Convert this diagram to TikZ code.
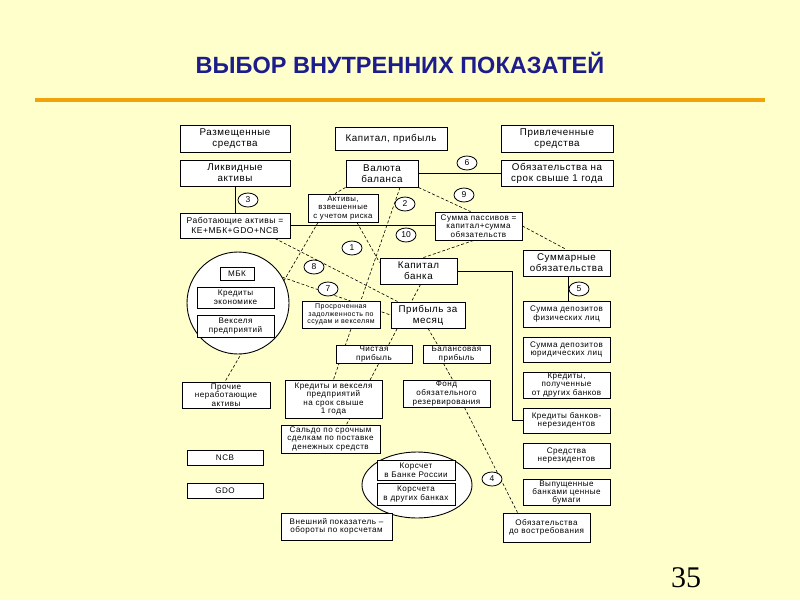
\documentclass[tikz,border=0pt]{standalone}
\usepackage{fontspec}
\setmainfont{Liberation Sans}
\newfontfamily\boxfont[LetterSpace=6]{Liberation Sans}
\newfontfamily\serifnum{Liberation Serif}
\usetikzlibrary{calc,shapes.geometric}
\pgfdeclarelayer{back}
\pgfdeclarelayer{lines}
\pgfsetlayers{back,lines,main}
\definecolor{bgyellow}{HTML}{FFFFCC}
\definecolor{titleblue}{HTML}{1C1C8C}
\definecolor{rulecol}{HTML}{F0A30A}
\begin{document}
\begin{tikzpicture}[x=1pt,y=-1pt,
  box/.style={draw=black, line width=0.9pt, fill=white, align=center, inner sep=0pt, font=\boxfont\fontsize{8.5}{9.5}\selectfont},
  big/.style={font=\boxfont\fontsize{9.8}{11}\selectfont},
  small/.style={font=\boxfont\fontsize{8.1}{8.6}\selectfont},
  tiny/.style={font=\boxfont\fontsize{7}{7.8}\selectfont},
  num/.style={ellipse, draw=black, line width=0.8pt, fill=white, minimum width=20pt, minimum height=14pt, inner sep=0pt, font=\fontsize{8.5}{9}\selectfont},
  dl/.style={draw=black, line width=0.6pt, dash pattern=on 3pt off 2pt},
  sl/.style={draw=black, line width=0.7pt}]
\begin{pgfonlayer}{back}
\fill[bgyellow] (0,0) rectangle (800,600);
\end{pgfonlayer}
\useasboundingbox (0,0) rectangle (800,600);

\node[font=\fontsize{23.5}{28}\selectfont\bfseries, text=titleblue] (title) at (400,62.5) {ВЫБОР ВНУТРЕННИХ ПОКАЗАТЕЙ};
\coordinate (r1) at (35,100);
\coordinate (r2) at (765,100);
\draw[rulecol, line width=4pt] (r1) -- (r2);
\node[font=\serifnum\fontsize{30}{34}\selectfont] (pg) at (686,578) {35};

% boxes
\node[box,big,minimum width=110pt,minimum height=27pt] (raz) at (235,138.5) {Размещенные\\средства};
\node[box,big,minimum width=112pt,minimum height=23pt] (kp) at (391,138.5) {Капитал, прибыль};
\node[box,big,minimum width=112pt,minimum height=27pt] (priv) at (557,138.5) {Привлеченные\\средства};
\node[box,big,minimum width=110pt,minimum height=26pt] (liq) at (235,173) {Ликвидные\\активы};
\node[box,big,minimum width=72pt,minimum height=27pt] (val) at (382,173.5) {Валюта\\баланса};
\node[box,big,minimum width=112pt,minimum height=26pt] (obsr) at (557,173) {Обязательства на\\срок свыше 1 года};
\node[box,small,minimum width=70pt,minimum height=28pt,font=\boxfont\fontsize{7.8}{8.5}\selectfont] (akt) at (343,208) {Активы,\\взвешенные\\с учетом риска};
\node[box,minimum width=110pt,minimum height=25pt] (rab) at (235,225.5) {Работающие активы =\\КЕ+МБК+GDO+NCB};
\node[box,small,minimum width=87pt,minimum height=28pt] (summ) at (478.5,226) {Сумма пассивов =\\капитал+сумма\\обязательств};
\node[box,big,minimum width=77pt,minimum height=26pt] (kb) at (418.5,271) {Капитал\\банка};
\node[box,big,minimum width=87pt,minimum height=26pt] (sob) at (566.5,263) {Суммарные\\обязательства};

\node[circle, draw=black, line width=0.9pt, fill=white, minimum size=102pt, inner sep=0pt] (bigc) at (238,303) {};
\node[box,small,minimum width=34pt,minimum height=13pt] (mbk) at (237,273.5) {МБК};
\node[box,small,minimum width=77pt,minimum height=21pt] (kre) at (235.5,297.5) {Кредиты\\экономике};
\node[box,small,minimum width=77pt,minimum height=22pt] (vek) at (235.5,326) {Векселя\\предприятий};

\node[box,tiny,minimum width=78pt,minimum height=27pt] (pros) at (341,314.5) {Просроченная\\задолженность по\\ссудам и векселям};
\node[box,big,minimum width=74pt,minimum height=26pt] (pm) at (428,315) {Прибыль за\\месяц};
\node[box,small,minimum width=76pt,minimum height=18pt] (cp) at (374,354) {Чистая\\прибыль};
\node[box,small,minimum width=67pt,minimum height=18pt] (bp) at (456.5,354) {Балансовая\\прибыль};

\node[box,small,minimum width=87pt,minimum height=26pt] (dfl) at (566.5,314) {Сумма депозитов\\физических лиц};
\node[box,small,minimum width=87pt,minimum height=25pt] (dul) at (566.5,349.5) {Сумма депозитов\\юридических лиц};
\node[box,small,minimum width=87pt,minimum height=26pt] (kpol) at (566.5,385) {Кредиты,\\полученные\\от других банков};
\node[box,small,minimum width=87pt,minimum height=25pt] (kbn) at (566.5,420.5) {Кредиты банков-\\нерезидентов};
\node[box,small,minimum width=87pt,minimum height=25pt] (sn) at (566.5,455.5) {Средства\\нерезидентов};
\node[box,small,minimum width=87pt,minimum height=26pt,font=\boxfont\fontsize{8.1}{8.2}\selectfont] (vcb) at (566.5,492.5) {Выпущенные\\банками ценные\\бумаги};
\node[box,small,minimum width=87pt,minimum height=29pt] (odv) at (546.5,527.5) {Обязательства\\до востребования};

\node[box,small,minimum width=88pt,minimum height=26pt] (pna) at (226,395) {Прочие\\неработающие\\активы};
\node[box,small,minimum width=76pt,minimum height=15pt] (ncb) at (225,457.5) {NCB};
\node[box,small,minimum width=76pt,minimum height=15pt] (gdo) at (225,490.5) {GDO};
\node[box,small,minimum width=97pt,minimum height=38pt] (kv) at (333.5,399) {Кредиты и векселя\\предприятий\\на срок свыше\\1 года};
\node[box,small,minimum width=99pt,minimum height=28pt] (sal) at (330.5,439) {Сальдо по срочным\\сделкам по поставке\\денежных средств};
\node[box,small,minimum width=87pt,minimum height=27pt] (fond) at (446.5,393.5) {Фонд\\обязательного\\резервирования};

\node[ellipse, draw=black, line width=0.9pt, fill=white, minimum width=110pt, minimum height=66pt, inner sep=0pt] (korc) at (417,485) {};
\node[box,small,minimum width=78pt,minimum height=20pt] (kbr) at (416,470) {Корсчет\\в Банке России};
\node[box,small,minimum width=78pt,minimum height=22pt] (kdb) at (416,494) {Корсчета\\в других банках};
\node[box,small,minimum width=111pt,minimum height=27pt] (vp) at (336.5,526.5) {Внешний показатель –\\обороты по корсчетам};

% connectors
\begin{pgfonlayer}{lines}
\draw[sl] (liq.south) -- (rab.north);
\draw[sl] (rab.east) -- (rab.east -| summ.west);
\draw[sl] (val.east) -- (val.east -| obsr.west);
\draw[sl] (kb.east) -- ++(55,0) |- (kbn.west);
\draw[sl] ($(sob.south)+(1.5,0)$) -- ($(dfl.north)+(1.5,0)$);

\draw[dl] (val.south east) -- ($(summ.north)+(-8,0)$);
\draw[dl] (val.south west) -- ($(akt.north)+(-8,0)$);
\draw[dl] ($(akt.south)+(-25,0)$) -- ($(pna.north)+(-1,0)$);
\draw[dl] ($(val.south)+(18,0)$) -- (kv.north);
\draw[dl] ($(akt.south)+(14,0)$) -- ($(kb.north west)+(0,5)$);
\draw[dl] ($(rab.south)+(40,0)$) -- ($(pm.north west)+(7,0)$);
\draw[dl] (bigc.30) -- (pm.west);
\draw[dl] ($(summ.south)+(-5,0)$) -- ($(kb.north)+(5,0)$);
\draw[dl] (summ.east) -- (sob.north);
\draw[dl] ($(kb.south)+(2,0)$) -- ($(sal.north)+(16,0)$);
\draw[dl] (pm.south) -- ($(bp.north)+(-19,0)$);
\draw[dl] ($(bp.south)+(-13,0)$) -- ($(fond.north)+(6,0)$);
\draw[dl] ($(fond.south)+(18,0)$) -- ($(odv.north)+(-29,0)$);
\end{pgfonlayer}

% number labels
\node[num] (n3) at (248,200) {3};
\node[num] (n6) at (467,163) {6};
\node[num] (n9) at (464,195) {9};
\node[num] (n2) at (405,204) {2};
\node[num] (n10) at (406,235) {10};
\node[num] (n1) at (352,248) {1};
\node[num] (n8) at (314,267) {8};
\node[num] (n7) at (328,289) {7};
\node[num] (n5) at (579,289) {5};
\node[num] (n4) at (492,479) {4};
\end{tikzpicture}
\end{document}
